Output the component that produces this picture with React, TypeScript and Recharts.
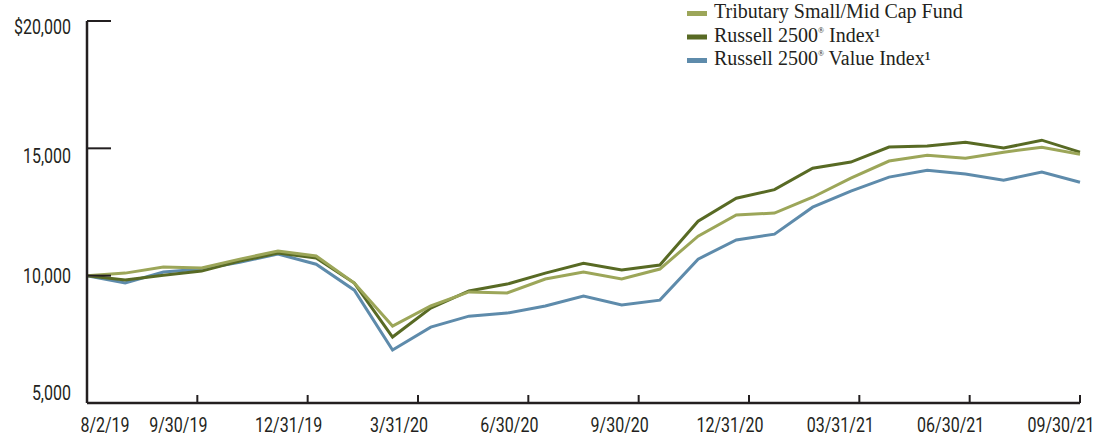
import React from "react";
import { LineChart, Line, XAxis, YAxis, Legend } from "recharts";

/**
 * Growth of $10,000: fund vs. Russell 2500 / Russell 2500 Value, monthly 8/2/19 - 9/30/21.
 */

const DATES = [
  "8/2/19", "8/31/19", "9/30/19", "10/31/19", "11/30/19", "12/31/19",
  "1/31/20", "2/29/20", "3/31/20", "4/30/20", "5/31/20", "6/30/20",
  "7/31/20", "8/31/20", "9/30/20", "10/31/20", "11/30/20", "12/31/20",
  "1/31/21", "2/28/21", "3/31/21", "4/30/21", "5/31/21", "6/30/21",
  "7/31/21", "8/31/21", "9/30/21",
];

const FUND = [
  10000, 10100, 10340, 10300, 10650, 10965, 10770, 9710, 8020, 8810, 9360, 9320,
  9870, 10140, 9870, 10260, 11550, 12380, 12460, 13080, 13830, 14500, 14730, 14610,
  14850, 15040, 14770,
];
const RUSSELL_2500 = [
  10000, 9830, 10020, 10180, 10570, 10890, 10690, 9710, 7590, 8730, 9400, 9670,
  10100, 10490, 10220, 10420, 12140, 13040, 13380, 14220, 14460, 15050, 15090, 15240,
  15010, 15320, 14850,
];
const RUSSELL_2500_VALUE = [
  10000, 9710, 10140, 10260, 10530, 10850, 10450, 9430, 7080, 7980, 8410, 8530,
  8810, 9200, 8850, 9040, 10650, 11400, 11630, 12690, 13320, 13870, 14140, 13990,
  13750, 14070, 13670,
];

const TICK_LABELS = [
  "8/2/19", "9/30/19", "12/31/19", "3/31/20", "6/30/20",
  "9/30/20", "12/31/20", "03/31/21", "06/30/21", "09/30/21",
];
const Y_TICKS = [5000, 10000, 15000, 20000];

// legend order (drawing order is reversed so the fund sits on top)
const SERIES = [
  { key: "fund", name: "Tributary Small/Mid Cap Fund", color: "#9ca659" },
  { key: "r2500", name: "Russell 2500® Index¹", color: "#586a24" },
  { key: "r2500v", name: "Russell 2500® Value Index¹", color: "#5e8bab" },
];

const INK = "#231f20";
const AXIS_FONT = "Roboto, 'Noto Sans', sans-serif";
const NARROW = 0.8; // the source uses a condensed sans; squeeze Roboto horizontally
const LAST = DATES.length - 1;

const data = DATES.map((date, i) => ({
  idx: i,
  date,
  fund: FUND[i],
  r2500: RUSSELL_2500[i],
  r2500v: RUSSELL_2500_VALUE[i],
}));

// tick labels are spread evenly along the axis, independent of the monthly points
const xTicks = TICK_LABELS.map((_, k) => (k * LAST) / (TICK_LABELS.length - 1));

function NarrowText({ x, y, anchor, size, children }: any) {
  return (
    <text
      transform={`translate(${x} ${y}) scale(${NARROW} 1)`}
      textAnchor={anchor}
      fill={INK}
      fontSize={size}
      fontFamily={AXIS_FONT}
    >
      {children}
    </text>
  );
}

function XTick(props: any) {
  const { x, y, index } = props;
  const label = TICK_LABELS[index] ?? "";
  const shift = index === 0 ? 18 : -19;
  return (
    <g>
      {index > 0 && <line x1={x} y1={y} x2={x} y2={y - 8} stroke={INK} strokeWidth={2} />}
      <NarrowText x={x + shift} y={y + 29} anchor="middle" size={20}>
        {label}
      </NarrowText>
    </g>
  );
}

// the source nudges its y labels a little off the gridline
const Y_NUDGE: Record<number, number> = { 5000: -10, 10000: 0, 15000: 8, 20000: 6 };

function YTick(props: any) {
  const { x, y, payload } = props;
  const v = payload?.value as number;
  const label = (v === 20000 ? "$" : "") + v.toLocaleString("en-US");
  return (
    <g>
      <line x1={x} y1={y} x2={x + 24} y2={y} stroke={INK} strokeWidth={2} />
      <NarrowText x={x - 16} y={y + (Y_NUDGE[v] ?? 0) + 7} anchor="end" size={20}>
        {label}
      </NarrowText>
    </g>
  );
}

function legendName(name: string) {
  // small raised ®, the ¹ glyph is already a superscript
  return name.split(/(®)/).map((part, i) =>
    part === "®" ? (
      <tspan key={i} fontSize={8} dy={-9}>
        ®
      </tspan>
    ) : (
      <tspan key={i} dy={i > 0 ? 9 : 0}>
        {part}
      </tspan>
    )
  );
}

function renderLegend() {
  return (
    <svg width={410} height={72} style={{ display: "block" }}>
      {SERIES.map((s, i) => (
        <g key={s.key}>
          <rect x={5} y={11 + i * 23.5} width={20} height={5} fill={s.color} />
          <text x={32} y={18 + i * 23.5} fill={INK} fontSize={20} fontFamily="'Liberation Serif', 'DejaVu Serif', serif">
            {legendName(s.name)}
          </text>
        </g>
      ))}
    </svg>
  );
}

export default function App() {
  return (
    <div style={{ position: "absolute", left: 0, top: 0, width: 1096, height: 438, background: "#fff" }}>
      <LineChart width={1096} height={438} data={data} margin={{ top: 21, right: 16, bottom: 0, left: 0 }}>
        <XAxis
          type="number"
          dataKey="idx"
          domain={[0, LAST]}
          ticks={xTicks}
          interval={0}
          height={35}
          tickSize={0}
          tickMargin={0}
          tickLine={false}
          axisLine={{ stroke: INK, strokeWidth: 2.5 }}
          tick={<XTick />}
        />
        <YAxis
          type="number"
          domain={[5000, 20000]}
          ticks={Y_TICKS}
          interval={0}
          width={87}
          tickSize={0}
          tickMargin={0}
          tickLine={false}
          axisLine={{ stroke: INK, strokeWidth: 2.5 }}
          tick={<YTick />}
        />
        <Legend
          layout="vertical"
          align="center"
          verticalAlign="middle"
          wrapperStyle={{ left: 682, top: 0, width: 410 }}
          content={renderLegend}
        />
        {[...SERIES].reverse().map((s) => (
          <Line
            key={s.key}
            type="linear"
            dataKey={s.key}
            name={s.name}
            stroke={s.color}
            strokeWidth={3}
            dot={false}
            activeDot={false}
            isAnimationActive={false}
          />
        ))}
      </LineChart>
    </div>
  );
}
